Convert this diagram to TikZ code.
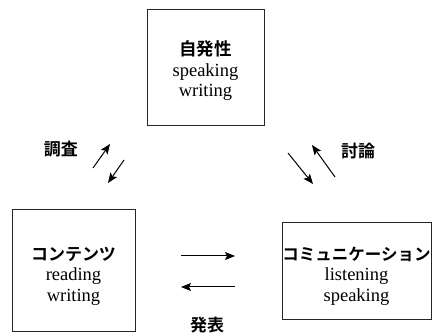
\documentclass[tikz,border=0pt]{standalone}
\usepackage{fontspec}
\setmainfont{Liberation Serif}
\newfontfamily\jp{Noto Sans CJK JP}[BoldFont={Noto Sans CJK JP Bold}]
\usetikzlibrary{arrows.meta}
\begin{document}
\begin{tikzpicture}[x=1pt,y=-1pt,
  box/.style={draw=black!85,line width=1pt,inner sep=0pt},
  txt/.style={align=center,font=\fontsize{18.5}{20.5}\selectfont},
  lab/.style={font=\jp\bfseries\fontsize{17}{20}\selectfont},
  arr/.style={line width=1pt,-{Stealth[length=10pt,width=8pt,inset=2pt]}}]
\useasboundingbox (0,0) rectangle (432,334);
% boxes
\node[box,minimum width=117pt,minimum height=116pt] (top) at (205.5,68) {};
\node[box,minimum width=123pt,minimum height=122pt] (left) at (73.5,271) {};
\node[box,minimum width=149pt,minimum height=97pt] (right) at (356.5,271.5) {};
% box texts
\node[txt] (toptxt) at (205.5,71) {{\jp\bfseries\fontsize{17.5}{20}\selectfont 自発性}\\speaking\\writing};
\node[txt] (lefttxt) at (73.5,276) {{\jp\bfseries\fontsize{17}{20}\selectfont コンテンツ}\\reading\\writing};
\node[txt] (righttxt) at (356.5,276) {{\jp\bfseries\fontsize{16.5}{20}\selectfont コミュニケーション}\\listening\\speaking};
% labels
\node[lab] (chousa) at (61,149) {調査};
\node[lab] (touron) at (358,151) {討論};
\node[lab] (happyou) at (207,325) {発表};
% arrow ends
\coordinate (a1s) at (93,168); \coordinate (a1e) at (110,144);
\coordinate (a2s) at (124,160); \coordinate (a2e) at (108,183);
\coordinate (b1s) at (288,153); \coordinate (b1e) at (313,184);
\coordinate (b2s) at (335,177); \coordinate (b2e) at (312,145);
\coordinate (c1s) at (181,256); \coordinate (c1e) at (235,256);
\coordinate (c2s) at (235,287); \coordinate (c2e) at (181,287);
\draw[arr] (a1s) -- (a1e);
\draw[arr] (a2s) -- (a2e);
\draw[arr] (b1s) -- (b1e);
\draw[arr] (b2s) -- (b2e);
\draw[arr] (c1s) -- (c1e);
\draw[arr] (c2s) -- (c2e);
\end{tikzpicture}
\end{document}
